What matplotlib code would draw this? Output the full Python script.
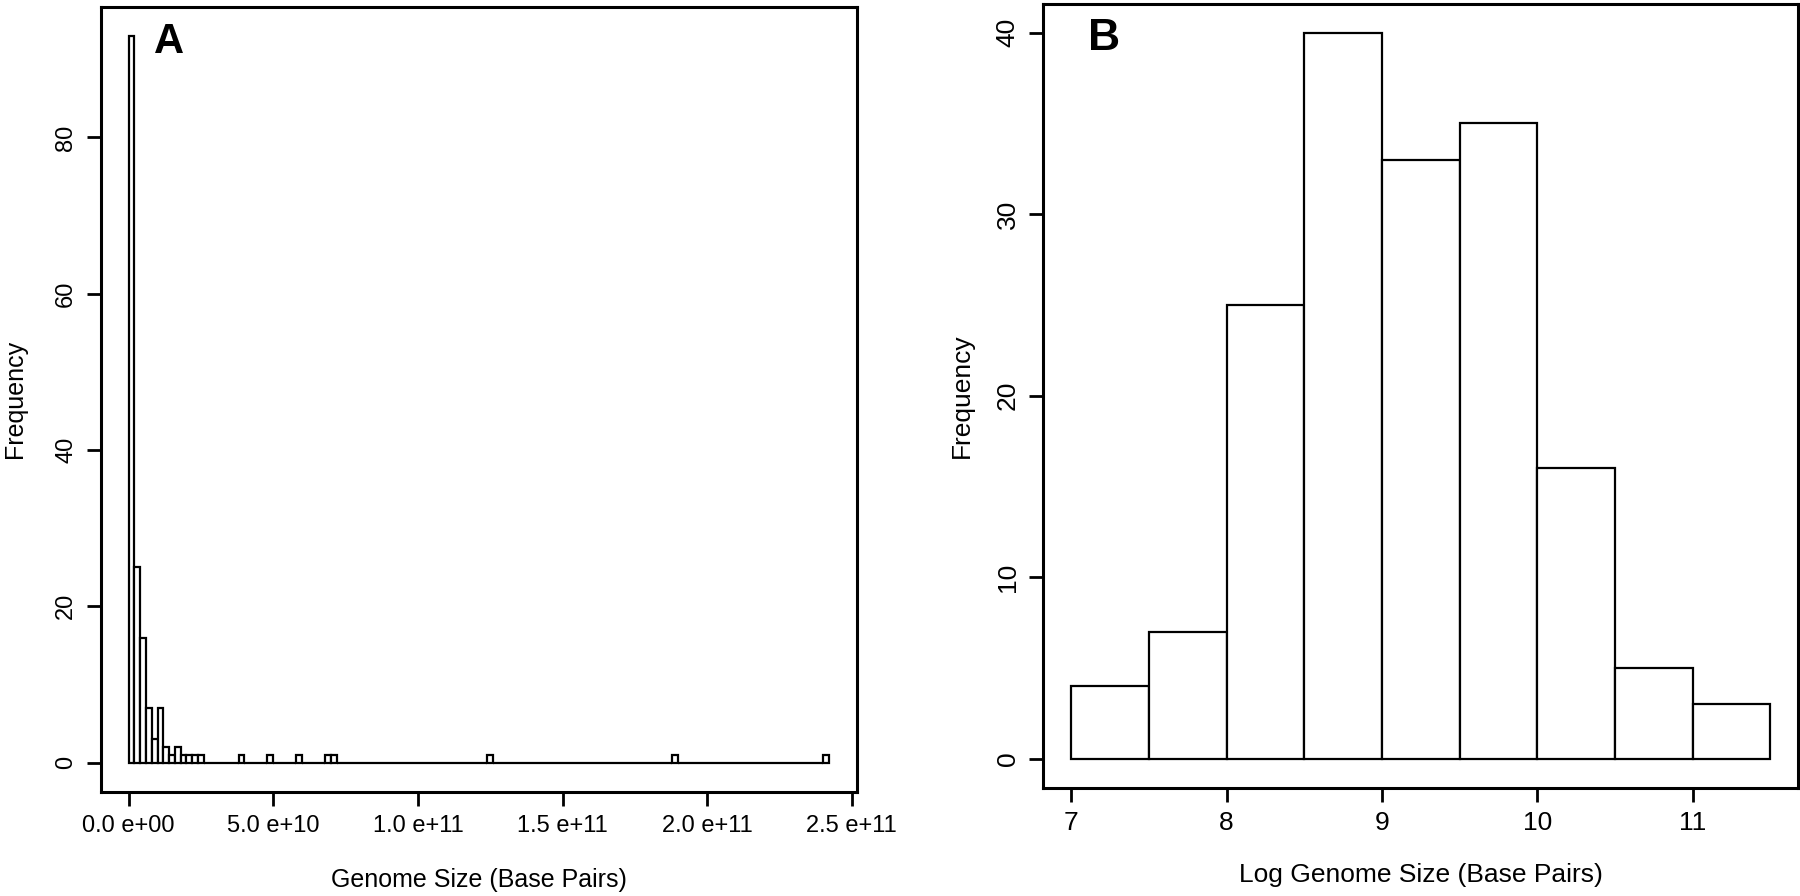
import numpy as np
import matplotlib.pyplot as plt

plt.rcParams['font.family'] = ['Liberation Sans', 'DejaVu Sans']

# Panel A: raw genome size, bins of 2e9 bp from 0 to 2.42e11
bin_width_a = 2e9
n_bins_a = 121
head_counts_a = [93, 25, 16, 7, 3, 7, 2, 1, 2, 1, 1, 1, 1]
single_bins_a = [3.8e10, 4.8e10, 5.8e10, 6.8e10, 7.0e10, 1.24e11, 1.88e11, 2.40e11]

# Panel B: log10 genome size, bins of 0.5
edges_b = [7, 7.5, 8, 8.5, 9, 9.5, 10, 10.5, 11, 11.5]
counts_b = [4, 7, 25, 40, 33, 35, 16, 5, 3]

edges_a = np.arange(n_bins_a + 1) * bin_width_a
counts_a = np.zeros(n_bins_a)
counts_a[:len(head_counts_a)] = head_counts_a
for s in single_bins_a:
    counts_a[int(round(s / bin_width_a))] += 1

fig = plt.figure(figsize=(18, 8.96), dpi=100)
axA = fig.add_axes([0.0559, 0.1164, 0.42, 0.876])
axB = fig.add_axes([0.5796, 0.121, 0.4194, 0.875])


def r_style(ax, xlim, ylim, size):
    ax.set_xlim(xlim)
    ax.set_ylim(ylim)
    for sp in ax.spines.values():
        sp.set_linewidth(2.2)
    ax.tick_params(direction='out', length=10, width=2, labelsize=size, pad=7)
    for lab in ax.get_yticklabels():
        lab.set_rotation(90)
        lab.set_va('center')


# A
axA.bar(edges_a[:-1], counts_a, width=bin_width_a, align='edge',
        facecolor='white', edgecolor='black', linewidth=1.6)
axA.set_xticks([0, 5e10, 1e11, 1.5e11, 2e11, 2.5e11])
axA.set_xticklabels(['0.0 e+00', '5.0 e+10', '1.0 e+11', '1.5 e+11', '2.0 e+11', '2.5 e+11'])
axA.set_yticks([0, 20, 40, 60, 80])
r = edges_a[-1]
r_style(axA, (-0.04 * r, 1.04 * r), (-0.04 * 93, 1.04 * 93), 17)
axA.set_xlabel('Genome Size (Base Pairs)', fontsize=18, labelpad=22)
axA.set_ylabel('Frequency', fontsize=18, labelpad=20)
axA.text(0.09, 0.955, 'A', transform=axA.transAxes, fontsize=30,
         fontweight='heavy', va='center', ha='center')

# B
axB.bar(edges_b[:-1], counts_b, width=0.5, align='edge',
        facecolor='white', edgecolor='black', linewidth=1.6)
axB.set_xticks([7, 8, 9, 10, 11])
axB.set_yticks([0, 10, 20, 30, 40])
r_style(axB, (7 - 0.04 * 4.5, 11.5 + 0.04 * 4.5), (-0.04 * 40, 1.04 * 40), 19)
axB.set_xlabel('Log Genome Size (Base Pairs)', fontsize=19, labelpad=20)
axB.set_ylabel('Frequency', fontsize=19, labelpad=16)
axB.text(0.08, 0.955, 'B', transform=axB.transAxes, fontsize=32,
         fontweight='heavy', va='center', ha='center')

fig.savefig('out.png', dpi=100)
